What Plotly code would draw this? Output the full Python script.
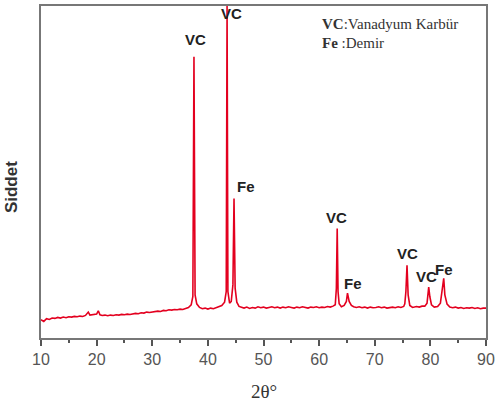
import plotly.graph_objects as go

two_theta = [
    10.0, 10.5, 11.0, 11.5, 12.0, 12.5, 13.0, 13.5, 14.0, 14.5, 15.0, 15.5, 16.0, 16.5,
    17.0, 17.5, 18.0, 18.5, 18.8, 19.5, 20.0, 20.3, 20.6, 21.0, 21.5, 22.0, 22.5, 23.0,
    23.5, 24.0, 24.5, 25.0, 25.5, 26.0, 26.5, 27.0, 27.5, 28.0, 28.5, 29.0, 29.5, 30.0,
    30.5, 31.0, 31.5, 32.0, 32.5, 33.0, 33.5, 34.0, 34.5, 35.0, 35.5, 36.0, 36.5, 37.0,
    37.3, 37.5, 37.7, 38.0, 38.5, 39.0, 39.5, 40.0, 40.5, 41.0, 41.5, 42.0, 42.5, 43.0,
    43.3, 43.45, 43.6, 43.9, 44.2, 44.5, 44.7, 44.9, 45.2, 45.6, 46.0, 46.5, 47.0, 47.5,
    48.0, 48.5, 49.0, 49.5, 50.0, 50.5, 51.0, 51.5, 52.0, 52.5, 53.0, 53.5, 54.0, 54.5,
    55.0, 55.5, 56.0, 56.5, 57.0, 57.5, 58.0, 58.5, 59.0, 59.5, 60.0, 60.5, 61.0, 61.5,
    62.0, 62.5, 62.9, 63.1, 63.25, 63.4, 63.6, 64.0, 64.5, 64.9, 65.1, 65.4, 65.8, 66.2,
    66.7, 67.2, 67.7, 68.2, 68.7, 69.2, 69.7, 70.2, 70.7, 71.2, 71.7, 72.2, 72.7, 73.2,
    73.7, 74.2, 74.7, 75.2, 75.4, 75.6, 75.8, 76.0, 76.3, 76.8, 77.5, 78.0, 78.5, 79.0,
    79.4, 79.7, 79.9, 80.2, 80.7, 81.3, 81.8, 82.2, 82.4, 82.6, 83.0, 83.5, 84.0, 84.5,
    85.0, 85.5, 86.0, 86.5, 87.0, 87.5, 88.0, 88.5, 89.0, 89.5, 90.0,
]

intensity = [
    5.5, 5.0, 5.8, 5.6, 6.0, 5.9, 6.2, 6.0, 6.3, 6.1, 6.4, 6.3, 6.5, 6.4,
    6.6, 6.5, 6.8, 7.8, 6.9, 7.0, 7.2, 8.2, 7.0, 6.8, 6.9, 6.7, 6.9, 6.8,
    7.0, 6.9, 7.1, 7.0, 7.2, 7.1, 7.3, 7.4, 7.3, 7.6, 7.5, 7.8, 7.7, 7.9,
    8.0, 8.1, 8.0, 8.3, 8.2, 8.5, 8.4, 8.6, 8.5, 8.7, 8.6, 8.9, 9.2, 10.0,
    12.5, 84.7, 13.0, 10.3, 9.2, 8.8, 9.0, 8.7, 9.0, 8.8, 9.1, 9.3, 9.8, 10.8,
    14.0, 100.0, 14.0, 10.5, 11.0, 16.0, 42.0, 15.0, 10.8, 9.5, 9.2, 9.0, 9.3, 8.9,
    9.2, 9.0, 9.4, 9.1, 9.3, 9.0, 9.2, 9.4, 9.1, 9.3, 9.0, 9.3, 9.1, 9.4,
    9.2, 9.0, 9.3, 9.1, 9.4, 9.2, 9.0, 9.3, 9.2, 9.4, 9.1, 9.3, 9.2, 9.5,
    9.3, 9.6, 10.0, 15.0, 33.0, 14.0, 10.3, 9.4, 9.8, 11.0, 13.5, 11.0, 9.8, 9.4,
    9.2, 9.4, 9.1, 9.3, 9.0, 9.3, 9.1, 9.2, 9.4, 9.1, 9.3, 9.0, 9.2, 9.3,
    9.1, 9.4, 9.2, 9.5, 10.3, 14.0, 21.9, 13.0, 9.8, 9.2, 9.5, 9.3, 9.6, 9.6,
    10.5, 15.3, 12.5, 10.0, 9.3, 9.5, 10.5, 15.0, 18.0, 13.0, 10.2, 9.3, 9.1, 9.3,
    9.0, 9.2, 8.9, 9.1, 9.0, 9.2, 8.9, 9.1, 8.8, 9.0, 9.0,
]

peak_labels = ["VC", "VC", "Fe", "VC", "Fe", "VC", "VC", "Fe"]
label_x = [37.86, 44.3, 46.8, 63.2, 66.1, 75.9, 79.3, 82.5]
label_y = [89.8, 97.6, 45.5, 36.2, 16.5, 25.4, 18.6, 20.7]

x_ticks = [10, 20, 30, 40, 50, 60, 70, 80, 90]

W, H = 499, 408

fig = go.Figure()
fig.add_trace(go.Scatter(
    x=two_theta, y=intensity, mode="lines",
    line=dict(color="#e3001f", width=1.6),
    hoverinfo="skip", showlegend=False,
))

for t, lx, ly in zip(peak_labels, label_x, label_y):
    fig.add_annotation(
        x=lx, y=ly, xref="x", yref="y", text=f"<b>{t}</b>", showarrow=False,
        font=dict(family="Liberation Sans, Arial", size=15, color="#222"),
    )

fig.add_annotation(
    x=313 / W, y=1 - 22 / H, xref="paper", yref="paper", xanchor="left", yanchor="middle",
    text="<b>VC</b>:Vanadyum Karbür", showarrow=False,
    font=dict(family="Liberation Serif, Times New Roman", size=15, color="#333"),
)
fig.add_annotation(
    x=313 / W, y=1 - 46 / H, xref="paper", yref="paper", xanchor="left", yanchor="middle",
    text="<b>Fe</b> :Demir", showarrow=False,
    font=dict(family="Liberation Serif, Times New Roman", size=15, color="#333"),
)

# Axis titles positioned in pixel terms of the page
fig.add_annotation(
    x=265, y=392, xref="paper", yref="paper", text="2θ°", showarrow=False,
    xanchor="center", yanchor="middle",
    font=dict(family="Liberation Serif, Times New Roman", size=19, color="#333"),
)
fig.add_annotation(
    x=12, y=186, xref="paper", yref="paper", text="<b>Siddet</b>", showarrow=False,
    textangle=-90, xanchor="center", yanchor="middle",
    font=dict(family="Liberation Sans, Arial", size=17, color="#333"),
)

fig.update_layout(
    width=W, height=H,
    margin=dict(l=41, r=10, t=4, b=70),
    paper_bgcolor="white", plot_bgcolor="white",
    xaxis=dict(
        range=[10, 90], tickvals=x_ticks, ticktext=[str(v) for v in x_ticks],
        ticks="outside", ticklen=6, tickwidth=1.5, tickcolor="#555",
        minor=dict(dtick=5, tick0=5, ticks="outside", ticklen=3, tickcolor="#555"),
        showline=True, linecolor="#777", linewidth=2, mirror=True,
        showgrid=False, zeroline=False,
        tickfont=dict(family="Liberation Sans, Arial", size=16, color="#555"),
    ),
    yaxis=dict(
        range=[0, 100], showticklabels=False, ticks="",
        showline=True, linecolor="#777", linewidth=2, mirror=True,
        showgrid=False, zeroline=False,
    ),
)

# convert the pixel positions of the two title annotations into paper fractions
pw = W - 41 - 10
ph = H - 4 - 70
for ann in fig.layout.annotations[-2:]:
    px, py = ann.x, ann.y
    ann.x = (px - 41) / pw
    ann.y = (H - 70 - py) / ph

fig.write_html("out.html")
